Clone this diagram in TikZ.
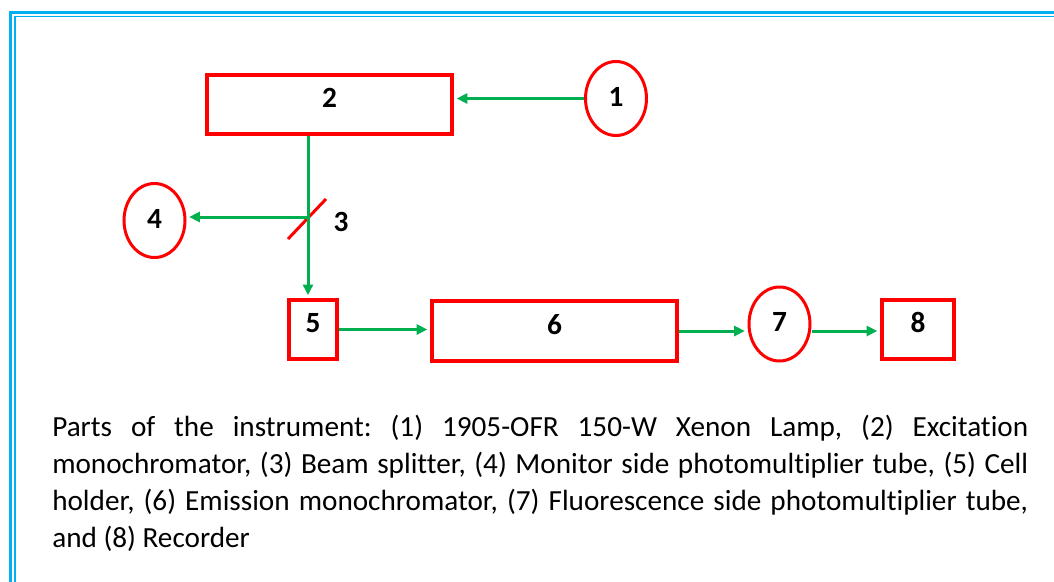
\documentclass[tikz,border=0pt]{standalone}
\usepackage{fontspec}
\setmainfont[Ligatures=NoCommon]{Carlito}
\usetikzlibrary{arrows.meta,shapes.geometric}
\definecolor{frameblue}{RGB}{0,176,240}
\definecolor{beamgreen}{RGB}{0,176,80}

\begin{document}
\frenchspacing
\begin{tikzpicture}[x=0.75pt,y=0.75pt,yscale=-1,xscale=1,
  partbox/.style={draw=red,line width=3pt,minimum width=#1,minimum height=44.5pt,inner sep=0pt,
    font=\fontsize{22pt}{22pt}\selectfont\bfseries,text depth=10pt},
  partoval/.style={ellipse,draw=red,line width=2.25pt,minimum width=45.75pt,minimum height=55.5pt,inner sep=0pt,
    font=\fontsize{22pt}{22pt}\selectfont\bfseries,text depth=3pt},
  beam/.style={draw=beamgreen,line width=2.25pt,-{Triangle[length=8pt,width=7.5pt]},shorten >=2pt},
  beamline/.style={draw=beamgreen,line width=2.25pt}]
\useasboundingbox (0,0) rectangle (1054,582);
\clip (0,0) rectangle (1054,582);

%Shape: Frame
\draw [frameblue, line width=2.25pt] (10,12.5) rectangle (1100,700);
\draw [frameblue, line width=1.1pt] (15,16.5) rectangle (1100,700);

%Shape: Rectangles and Ellipses
\node [partbox=183.75pt] (mono2) at (329.5,104.5) {2};
\node [partoval] (lamp1) at (616,98.5) {1};
\node [partoval] (pmt4) at (154.5,220.5) {4};
\node [partbox=36pt] (cell5) at (313,329.5) {5};
\node [partbox=183.75pt] (mono6) at (554.5,331) {6};
\node [partoval] (pmt7) at (779.5,324) {7};
\node [partbox=54pt] (rec8) at (918,329.5) {8};

%Shape: Beam splitter
\coordinate (split3) at (308,217);
\draw [red, line width=2.25pt] ([shift={(-20,22)}]split3) -- ([shift={(18,-18)}]split3);
% Text Node
\node [font=\fontsize{22pt}{22pt}\selectfont\bfseries] (lbl3) at (341,222) {3};

%Straight Lines
\draw [beam] (lamp1.west) -- (lamp1.west -| mono2.east);
\draw [beamline] (mono2.south -| split3) -- (split3);
\draw [beam] (split3) -- (split3 -| pmt4.east);
\draw [beam] (split3) -- (split3 |- cell5.north);
\draw [beam] (cell5.east) -- (cell5.east -| mono6.west);
\draw [beam] (mono6.east) -- (mono6.east -| pmt7.west);
\draw [beam] (mono6.east -| pmt7.east) -- (mono6.east -| rec8.west);

% Text Node
\node [anchor=north west, inner sep=0pt, text width=732pt, align=justify,
  font=\fontsize{21.9pt}{27.75pt}\selectfont] (caption) at (52,414.5)
  {Parts of the instrument: (1) 1905-OFR 150-W Xenon Lamp, (2) Excitation\linebreak
   monochromator, (3) Beam splitter, (4) Monitor side photomultiplier tube, (5) Cell\linebreak
   holder, (6) Emission monochromator, (7) Fluorescence side photomultiplier tube,\linebreak
   and (8) Recorder};

\end{tikzpicture}
\end{document}
